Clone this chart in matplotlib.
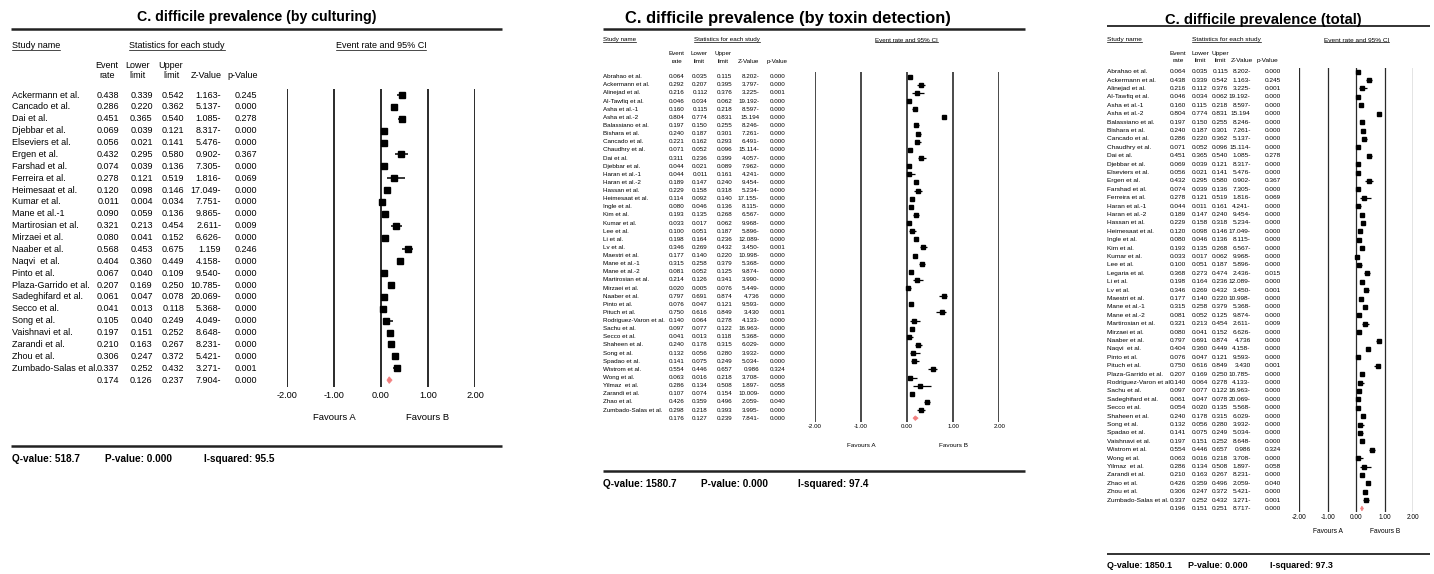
import matplotlib
matplotlib.use("Agg")
import matplotlib.pyplot as plt
from matplotlib.transforms import blended_transform_factory
from matplotlib.lines import Line2D
from matplotlib.patches import Polygon

plt.rcParams['font.family'] = ['Liberation Sans', 'DejaVu Sans']

# ---------------- data: by culturing ----------------
cult_names = ["Ackermann et al.", "Cancado et al.", "Dai et al.", "Djebbar et al.", "Elseviers et al.",
              "Ergen et al.", "Farshad et al.", "Ferreira et al.", "Heimesaat et al.", "Kumar et al.",
              "Mane et al.-1", "Martirosian et al.", "Mirzaei et al.", "Naaber et al.", "Naqvi  et al.",
              "Pinto et al.", "Plaza-Garrido et al.", "Sadeghifard et al.", "Secco et al.", "Song et al.",
              "Vaishnavi et al.", "Zarandi et al.", "Zhou et al.", "Zumbado-Salas et al."]
cult_rate = [0.438, 0.286, 0.451, 0.069, 0.056, 0.432, 0.074, 0.278, 0.120, 0.011, 0.090, 0.321,
             0.080, 0.568, 0.404, 0.067, 0.207, 0.061, 0.041, 0.105, 0.197, 0.210, 0.306, 0.337]
cult_lower = [0.339, 0.220, 0.365, 0.039, 0.021, 0.295, 0.039, 0.121, 0.098, 0.004, 0.059, 0.213,
              0.041, 0.453, 0.360, 0.040, 0.169, 0.047, 0.013, 0.040, 0.151, 0.163, 0.247, 0.252]
cult_upper = [0.542, 0.362, 0.540, 0.121, 0.141, 0.580, 0.136, 0.519, 0.146, 0.034, 0.136, 0.454,
              0.152, 0.675, 0.449, 0.109, 0.250, 0.078, 0.118, 0.249, 0.252, 0.267, 0.372, 0.432]
cult_z = [-1.163, -5.137, -1.085, -8.317, -5.476, -0.902, -7.305, -1.816, -17.049, -7.751, -9.865, -2.611,
          -6.626, 1.159, -4.158, -9.540, -10.785, -20.069, -5.368, -4.049, -8.648, -8.231, -5.421, -3.271]
cult_p = [0.245, 0.000, 0.278, 0.000, 0.000, 0.367, 0.000, 0.069, 0.000, 0.000, 0.000, 0.009,
          0.000, 0.246, 0.000, 0.000, 0.000, 0.000, 0.000, 0.000, 0.000, 0.000, 0.000, 0.001]
cult_summary = [0.174, 0.126, 0.237, -7.904, 0.000]
cult_stats = ["518.7", "0.000", "95.5"]

# ---------------- data: by toxin detection ----------------
tox_names = ["Abrahao et al.", "Ackermann et al.", "Alinejad et al.", "Al-Tawfiq et al.", "Asha et al.-1",
             "Asha et al.-2", "Balassiano et al.", "Bishara et al.", "Cancado et al.", "Chaudhry et al.",
             "Dai et al.", "Djebbar et al.", "Haran et al.-1", "Haran et al.-2", "Hassan et al.",
             "Heimesaat et al.", "Ingle et al.", "Kim et al.", "Kumar et al.", "Lee et al.", "Li et al.",
             "Lv et al.", "Maestri et al.", "Mane et al.-1", "Mane et al.-2", "Martirosian et al.",
             "Mirzaei et al.", "Naaber et al.", "Pinto et al.", "Pituch et al.", "Rodriguez-Varon et al.",
             "Sachu et al.", "Secco et al.", "Shaheen et al.", "Song et al.", "Spadao et al.",
             "Wistrom et al.", "Wong et al.", "Yilmaz  et al.", "Zarandi et al.", "Zhao et al.",
             "Zumbado-Salas et al."]
tox_rate = [0.064, 0.292, 0.216, 0.046, 0.160, 0.804, 0.197, 0.240, 0.221, 0.071, 0.311, 0.044, 0.044,
            0.189, 0.229, 0.114, 0.080, 0.193, 0.033, 0.100, 0.198, 0.346, 0.177, 0.315, 0.081, 0.214,
            0.020, 0.797, 0.076, 0.750, 0.140, 0.097, 0.041, 0.240, 0.132, 0.141, 0.554, 0.063, 0.286,
            0.107, 0.426, 0.298]
tox_lower = [0.035, 0.207, 0.112, 0.034, 0.115, 0.774, 0.150, 0.187, 0.162, 0.052, 0.236, 0.021, 0.011,
             0.147, 0.158, 0.092, 0.046, 0.135, 0.017, 0.051, 0.164, 0.269, 0.140, 0.258, 0.052, 0.126,
             0.005, 0.691, 0.047, 0.616, 0.064, 0.077, 0.013, 0.178, 0.056, 0.075, 0.446, 0.016, 0.134,
             0.074, 0.359, 0.218]
tox_upper = [0.115, 0.395, 0.376, 0.062, 0.218, 0.831, 0.255, 0.301, 0.293, 0.096, 0.399, 0.089, 0.161,
             0.240, 0.318, 0.140, 0.136, 0.268, 0.062, 0.187, 0.236, 0.432, 0.220, 0.379, 0.125, 0.341,
             0.076, 0.874, 0.121, 0.849, 0.278, 0.122, 0.118, 0.315, 0.280, 0.249, 0.657, 0.218, 0.508,
             0.154, 0.496, 0.393]
tox_z = [-8.202, -3.797, -3.225, -19.192, -8.597, 15.194, -8.246, -7.261, -6.491, -15.114, -4.057, -7.962,
         -4.241, -9.454, -5.234, -17.155, -8.115, -6.567, -9.968, -5.896, -12.089, -3.450, -10.998, -5.368,
         -9.874, -3.990, -5.449, 4.736, -9.593, 3.430, -4.133, -16.963, -5.368, -6.029, -3.932, -5.034,
         0.986, -3.708, -1.897, -10.009, -2.059, -3.995]
tox_p = [0.000, 0.000, 0.001, 0.000, 0.000, 0.000, 0.000, 0.000, 0.000, 0.000, 0.000, 0.000, 0.000,
         0.000, 0.000, 0.000, 0.000, 0.000, 0.000, 0.000, 0.000, 0.001, 0.000, 0.000, 0.000, 0.000,
         0.000, 0.000, 0.000, 0.001, 0.000, 0.000, 0.000, 0.000, 0.000, 0.000, 0.324, 0.000, 0.058,
         0.000, 0.040, 0.000]
tox_summary = [0.176, 0.127, 0.239, -7.841, 0.000]
tox_stats = ["1580.7", "0.000", "97.4"]

# ---------------- data: total ----------------
tot_names = ["Abrahao et al.", "Ackermann et al.", "Alinejad et al.", "Al-Tawfiq et al.", "Asha et al.-1",
             "Asha et al.-2", "Balassiano et al.", "Bishara et al.", "Cancado et al.", "Chaudhry et al.",
             "Dai et al.", "Djebbar et al.", "Elseviers et al.", "Ergen et al.", "Farshad et al.",
             "Ferreira et al.", "Haran et al.-1", "Haran et al.-2", "Hassan et al.", "Heimesaat et al.",
             "Ingle et al.", "Kim et al.", "Kumar et al.", "Lee et al.", "Legaria et al.", "Li et al.",
             "Lv et al.", "Maestri et al.", "Mane et al.-1", "Mane et al.-2", "Martirosian et al.",
             "Mirzaei et al.", "Naaber et al.", "Naqvi  et al.", "Pinto et al.", "Pituch et al.",
             "Plaza-Garrido et al.", "Rodriguez-Varon et al", "Sachu et al.", "Sadeghifard et al.",
             "Secco et al.", "Shaheen et al.", "Song et al.", "Spadao et al.", "Vaishnavi et al.",
             "Wistrom et al.", "Wong et al.", "Yilmaz  et al.", "Zarandi et al.", "Zhao et al.",
             "Zhou et al.", "Zumbado-Salas et al."]
tot_rate = [0.064, 0.438, 0.216, 0.046, 0.160, 0.804, 0.197, 0.240, 0.286, 0.071, 0.451, 0.069, 0.056,
            0.432, 0.074, 0.278, 0.044, 0.189, 0.229, 0.120, 0.080, 0.193, 0.033, 0.100, 0.368, 0.198,
            0.346, 0.177, 0.315, 0.081, 0.321, 0.080, 0.797, 0.404, 0.076, 0.750, 0.207, 0.140, 0.097,
            0.061, 0.054, 0.240, 0.132, 0.141, 0.197, 0.554, 0.063, 0.286, 0.210, 0.426, 0.306, 0.337]
tot_lower = [0.035, 0.339, 0.112, 0.034, 0.115, 0.774, 0.150, 0.187, 0.220, 0.052, 0.365, 0.039, 0.021,
             0.295, 0.039, 0.121, 0.011, 0.147, 0.158, 0.098, 0.046, 0.135, 0.017, 0.051, 0.273, 0.164,
             0.269, 0.140, 0.258, 0.052, 0.213, 0.041, 0.691, 0.360, 0.047, 0.616, 0.169, 0.064, 0.077,
             0.047, 0.020, 0.178, 0.056, 0.075, 0.151, 0.446, 0.016, 0.134, 0.163, 0.359, 0.247, 0.252]
tot_upper = [0.115, 0.542, 0.376, 0.062, 0.218, 0.831, 0.255, 0.301, 0.362, 0.096, 0.540, 0.121, 0.141,
             0.580, 0.136, 0.519, 0.161, 0.240, 0.318, 0.146, 0.136, 0.268, 0.062, 0.187, 0.474, 0.236,
             0.432, 0.220, 0.379, 0.125, 0.454, 0.152, 0.874, 0.449, 0.121, 0.849, 0.250, 0.278, 0.122,
             0.078, 0.135, 0.315, 0.280, 0.249, 0.252, 0.657, 0.218, 0.508, 0.267, 0.496, 0.372, 0.432]
tot_z = [-8.202, -1.163, -3.225, -19.192, -8.597, 15.194, -8.246, -7.261, -5.137, -15.114, -1.085, -8.317,
         -5.476, -0.902, -7.305, -1.816, -4.241, -9.454, -5.234, -17.049, -8.115, -6.567, -9.968, -5.896,
         -2.436, -12.089, -3.450, -10.998, -5.368, -9.874, -2.611, -6.626, 4.736, -4.158, -9.593, 3.430,
         -10.785, -4.133, -16.963, -20.069, -5.568, -6.029, -3.932, -5.034, -8.648, 0.986, -3.708, -1.897,
         -8.231, -2.059, -5.421, -3.271]
tot_p = [0.000, 0.245, 0.001, 0.000, 0.000, 0.000, 0.000, 0.000, 0.000, 0.000, 0.278, 0.000, 0.000,
         0.367, 0.000, 0.069, 0.000, 0.000, 0.000, 0.000, 0.000, 0.000, 0.000, 0.000, 0.015, 0.000,
         0.001, 0.000, 0.000, 0.000, 0.009, 0.000, 0.000, 0.000, 0.000, 0.001, 0.000, 0.000, 0.000,
         0.000, 0.000, 0.000, 0.000, 0.000, 0.000, 0.324, 0.000, 0.058, 0.000, 0.040, 0.000, 0.001]
tot_summary = [0.196, 0.151, 0.251, -8.717, 0.000]
tot_stats = ["1850.1", "0.000", "97.3"]

axis_ticks = [-2, -1, 0, 1, 2]
titles = ["C. difficile prevalence (by culturing)",
          "C. difficile prevalence (by toxin detection)",
          "C. difficile prevalence (total)"]

# ---------------- layout (pixels) ----------------
W, H = 1434, 574
fig = plt.figure(figsize=(W / 100, H / 100), dpi=100)
bg = fig.add_axes([0, 0, 1, 1])
bg.set_xlim(0, W)
bg.set_ylim(H, 0)
bg.axis('off')

layouts = [
    dict(title_x=257, title_y=16.5, title_fs=10.2, rule_x=(11, 502), rule_top=29, rule_bot=446, rule_lw=1.8,
         head_y=46, stat_head_x=177, ci_head_x=381, colhead_y=(65, 76), name_x=12,
         val_right=[119, 152.7, 184.3, 221.3, 257.3], colhead_x=[107, 138, 171, 206.5, 243],
         fs=6.5, row0=95, step=11.88, ax_x=(287, 475), ax_y=(89, 387), vline_lw=1.4,
         tick_y=396, tick_fs=6.6, fav_y=418, fav_fs=6.8, ms=4.4, ci_lw=1.1,
         stat_y=459, stat_x=[12, 105, 204], stat_fs=7.2),
    dict(title_x=788, title_y=18.5, title_fs=11.9, rule_x=(603, 1025), rule_top=28.5, rule_bot=470.5, rule_lw=1.8,
         head_y=40, stat_head_x=727.3, ci_head_x=906.7, colhead_y=(53.3, 61.7), name_x=603.3,
         val_right=[684.3, 707.7, 732.3, 759.3, 785], colhead_x=[676.7, 699.3, 723.3, 748.3, 777.3],
         fs=4.5, row0=76.7, step=8.13, ax_x=(815, 999.3), ax_y=(71.7, 421.7), vline_lw=1.2,
         tick_y=427.7, tick_fs=4.4, fav_y=445.7, fav_fs=4.6, ms=3.0, ci_lw=0.9,
         stat_y=484, stat_x=[603, 701, 797.7], stat_fs=7.2),
    dict(title_x=1263.7, title_y=20, title_fs=10.65, rule_x=(1107, 1430), rule_top=26, rule_bot=554, rule_lw=1.3,
         head_y=40, stat_head_x=1226.7, ci_head_x=1356.7, colhead_y=(53.3, 60.3), name_x=1107,
         val_right=[1185.7, 1207.7, 1228.3, 1250.7, 1280.7], colhead_x=[1178.3, 1200.7, 1220, 1241.7, 1267.7],
         fs=4.65, row0=71.7, step=8.4, ax_x=(1299.3, 1413.3), ax_y=(68.3, 511.7), vline_lw=0.9,
         tick_y=517.7, tick_fs=4.7, fav_y=531.7, fav_fs=4.8, ms=3.0, ci_lw=0.9,
         stat_y=565, stat_x=[1107, 1188, 1270], stat_fs=6.4),
]

panels = [
    (cult_names, cult_rate, cult_lower, cult_upper, cult_z, cult_p, cult_summary, cult_stats),
    (tox_names, tox_rate, tox_lower, tox_upper, tox_z, tox_p, tox_summary, tox_stats),
    (tot_names, tot_rate, tot_lower, tot_upper, tot_z, tot_p, tot_summary, tot_stats),
]


def fmt_z(z):
    return f"{abs(z):.3f}-" if z < 0 else f"{z:.3f}"


underlined = []
for title, L, (names, rate, lower, upper, zs, ps, summ, stats) in zip(titles, layouts, panels):
    n = len(names)
    x0, x1 = L['ax_x']
    yt, yb = L['ax_y']
    ax = fig.add_axes([x0 / W, 1 - yb / H, (x1 - x0) / W, (yb - yt) / H])
    ax.set_xlim(axis_ticks[0], axis_ticks[-1])
    ax.set_ylim((yb - L['row0']) / L['step'], (yt - L['row0']) / L['step'])
    for s in ax.spines.values():
        s.set_visible(False)
    ax.set_yticks([])
    ax.set_xticks(axis_ticks)
    ax.set_xticklabels([f"{t:.2f}" for t in axis_ticks], fontsize=L['tick_fs'])
    pad_px = L['tick_y'] - yb - L['tick_fs'] * 100 / 72 * 0.55
    ax.tick_params(axis='x', length=0, pad=pad_px * 72 / 100)
    ax.patch.set_alpha(0)
    for t in axis_ticks:
        ax.axvline(t, color='#2a2a2a', lw=L['vline_lw'], zorder=1)

    rows = list(range(n))
    ax.hlines(rows, lower, upper, color='black', lw=L['ci_lw'], zorder=3)
    ax.plot(rate, rows, 's', color='black', ms=L['ms'], zorder=4)
    est, lo, hi = summ[0], summ[1], summ[2]
    h = 0.28
    ax.add_patch(Polygon([(lo, n), (est, n - h), (hi, n), (est, n + h)], closed=True,
                         facecolor='#f27f7f', edgecolor='#f27f7f', lw=0.5, zorder=4))

    # favours labels under -1 and 1
    tr_fav = blended_transform_factory(ax.transData, bg.transData)
    ax.text(-1, L['fav_y'], "Favours A", transform=tr_fav, ha='center', va='center', fontsize=L['fav_fs'])
    ax.text(1, L['fav_y'], "Favours B", transform=tr_fav, ha='center', va='center', fontsize=L['fav_fs'])

    # table text: x in pixels, y in row units
    tr = blended_transform_factory(bg.transData, ax.transData)
    fs = L['fs']
    vr = L['val_right']
    for i in range(n):
        ax.text(L['name_x'], i, names[i], transform=tr, ha='left', va='center', fontsize=fs)
        vals = [f"{rate[i]:.3f}", f"{lower[i]:.3f}", f"{upper[i]:.3f}", fmt_z(zs[i]), f"{ps[i]:.3f}"]
        for xr, v in zip(vr, vals):
            ax.text(xr, i, v, transform=tr, ha='right', va='center', fontsize=fs)
    svals = [f"{summ[0]:.3f}", f"{summ[1]:.3f}", f"{summ[2]:.3f}", fmt_z(summ[3]), f"{summ[4]:.3f}"]
    for xr, v in zip(vr, svals):
        ax.text(xr, n, v, transform=tr, ha='right', va='center', fontsize=fs)

    # title and rules
    bg.text(L['title_x'], L['title_y'], title, ha='center', va='center', fontsize=L['title_fs'],
            fontweight='bold')
    bg.plot(L['rule_x'], [L['rule_top']] * 2, color='#222222', lw=L['rule_lw'], solid_capstyle='butt')
    bg.plot(L['rule_x'], [L['rule_bot']] * 2, color='#222222', lw=L['rule_lw'], solid_capstyle='butt')

    # headers
    t1 = bg.text(L['name_x'], L['head_y'], "Study name", ha='left', va='center', fontsize=fs)
    t2 = bg.text(L['stat_head_x'], L['head_y'], "Statistics for each study", ha='center', va='center', fontsize=fs)
    t3 = bg.text(L['ci_head_x'], L['head_y'], "Event rate and 95% CI", ha='center', va='center', fontsize=fs)
    underlined += [(t1, fs), (t2, fs), (t3, fs)]
    heads = [("Event", "rate"), ("Lower", "limit"), ("Upper", "limit"), ("", "Z-Value"), ("", "p-Value")]
    for xc, (a, b) in zip(L['colhead_x'], heads):
        if a:
            bg.text(xc, L['colhead_y'][0], a, ha='center', va='center', fontsize=fs)
        bg.text(xc, L['colhead_y'][1], b, ha='center', va='center', fontsize=fs)

    # statistics footer
    labels = [f"Q-value: {stats[0]}", f"P-value: {stats[1]}", f"I-squared: {stats[2]}"]
    for xs, lab in zip(L['stat_x'], labels):
        bg.text(xs, L['stat_y'], lab, ha='left', va='center', fontsize=L['stat_fs'], fontweight='bold')

# underline header texts
fig.canvas.draw()
renderer = fig.canvas.get_renderer()
inv = bg.transData.inverted()
for t, fs in underlined:
    bb = t.get_window_extent(renderer)
    (xa, ya), (xb, yb2) = inv.transform([(bb.x0, bb.y0), (bb.x1, bb.y1)])
    yline = max(ya, yb2) - 0.5
    bg.plot([xa, xb], [yline, yline], color='black', lw=0.5)

fig.savefig("out.png", dpi=100)
